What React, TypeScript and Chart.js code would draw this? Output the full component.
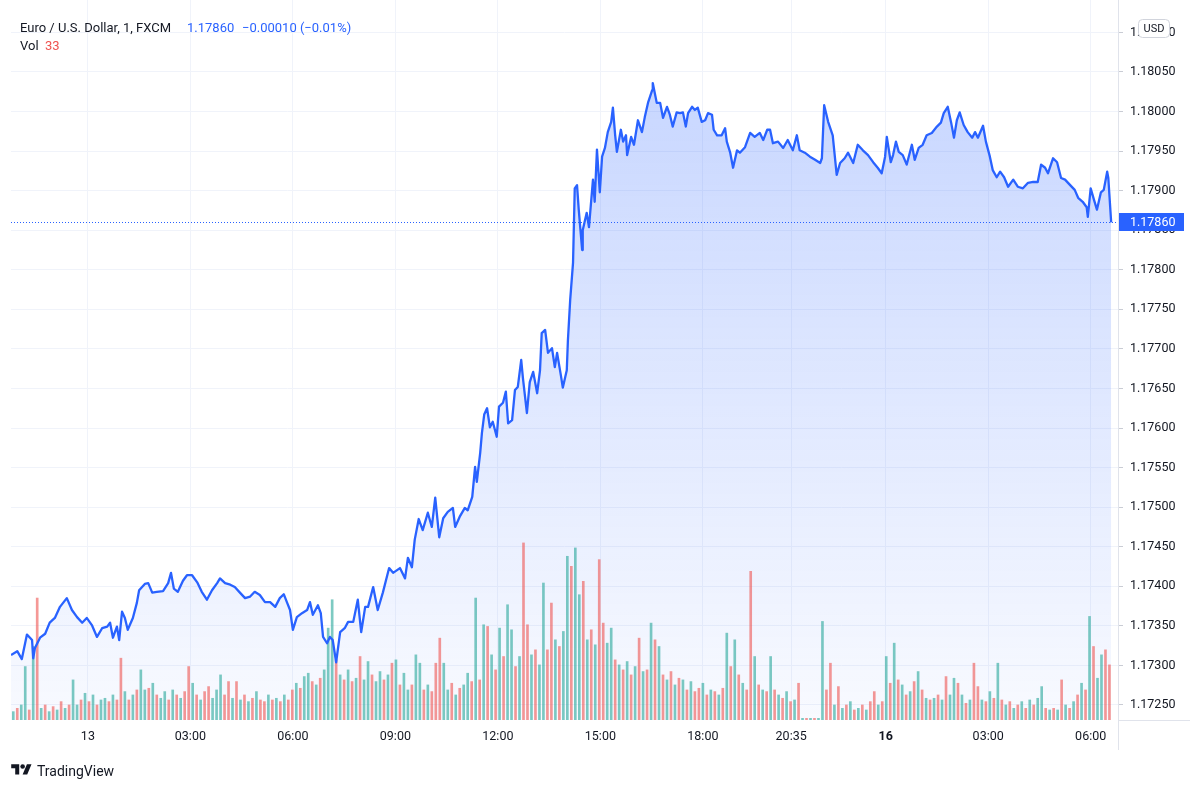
import React, { useEffect, useRef } from 'react';
import { Chart, registerables } from 'chart.js';

Chart.register(...registerables);

const FONT = 'Roboto, "Liberation Sans", sans-serif';

// ---- DATA ----
const instrumentTitle = 'Euro / U.S. Dollar, 1, FXCM';
const lastPrice = 1.1786;
const lastChangeText = '\u22120.00010 (\u22120.01%)';
const lastVolume = 33;
const currency = 'USD';

// x-axis: minutes from the first bar (1-minute chart)
const axisMinMinute = 0;
const axisMaxMinute = 1944;
const xTickMinutes = [135, 315, 495, 675, 855, 1035, 1215, 1370, 1536, 1716, 1896];
const xTickLabels = ['13', '03:00', '06:00', '09:00', '12:00', '15:00', '18:00', '20:35', '16', '03:00', '06:00'];

// y-axis (price)
const priceMin = 1.17231;
const priceMax = 1.18141;
const priceStep = 0.0005;

// [minute, price]
const pricePoints: [number, number][] = [
  [0, 1.17313], [11, 1.17318], [19, 1.17308], [28, 1.17339], [37, 1.17332], [39, 1.17309], [42, 1.17322],
  [51, 1.17335], [60, 1.1734], [68, 1.17354], [77, 1.1736], [86, 1.17374], [98, 1.17385], [107, 1.1737],
  [116, 1.17361], [125, 1.17354], [133, 1.1736], [142, 1.17351], [151, 1.17336], [160, 1.17347], [169, 1.17349],
  [174, 1.17354], [179, 1.17335], [186, 1.17349], [190, 1.17332], [195, 1.17368], [200, 1.1736], [205, 1.17345],
  [214, 1.1736], [221, 1.17379], [225, 1.17395], [235, 1.17403], [241, 1.17404], [248, 1.17392], [256, 1.17393],
  [267, 1.17394], [276, 1.17404], [281, 1.17417], [286, 1.17397], [293, 1.17393], [302, 1.17407], [309, 1.17414],
  [318, 1.17414], [327, 1.17405], [335, 1.17393], [344, 1.17383], [353, 1.17395], [362, 1.17404], [367, 1.1741],
  [376, 1.17404], [385, 1.17402], [393, 1.17399], [402, 1.17392], [411, 1.17385], [420, 1.17387], [428, 1.17393],
  [437, 1.17389], [446, 1.1738], [455, 1.1738], [464, 1.17374], [472, 1.17385], [479, 1.1739], [485, 1.17379],
  [490, 1.1737], [495, 1.17345], [502, 1.17361], [511, 1.17366], [520, 1.1737], [525, 1.1738], [530, 1.17364],
  [539, 1.17376], [544, 1.17366], [548, 1.17336], [555, 1.17328], [560, 1.17336], [565, 1.17332], [571, 1.17304],
  [578, 1.17342], [586, 1.17347], [592, 1.17355], [601, 1.17355], [609, 1.17383], [615, 1.17342], [622, 1.17374],
  [627, 1.17374], [636, 1.17399], [644, 1.1737], [653, 1.17392], [664, 1.17423], [671, 1.17417], [683, 1.17423],
  [692, 1.1741], [697, 1.17436], [704, 1.17424], [709, 1.17459], [716, 1.17485], [723, 1.17471], [732, 1.17493],
  [739, 1.17475], [745, 1.17512], [752, 1.17462], [759, 1.17486], [767, 1.17494], [776, 1.17499], [780, 1.17475],
  [788, 1.17488], [797, 1.17499], [802, 1.17496], [810, 1.17513], [815, 1.17551], [818, 1.17532], [824, 1.17569],
  [827, 1.17594], [831, 1.17617], [836, 1.17625], [841, 1.17601], [846, 1.17608], [853, 1.17589], [857, 1.17627],
  [864, 1.17632], [869, 1.17646], [873, 1.17606], [880, 1.1761], [885, 1.17648], [890, 1.17652], [896, 1.17686],
  [899, 1.17663], [906, 1.17619], [911, 1.17658], [917, 1.17671], [924, 1.17644], [929, 1.17673], [932, 1.1772],
  [938, 1.17724], [943, 1.17695], [950, 1.17701], [955, 1.17677], [959, 1.17695], [966, 1.17665], [969, 1.17651],
  [976, 1.17673], [978, 1.17711], [982, 1.17762], [987, 1.17809], [990, 1.17903], [994, 1.17907], [997, 1.17876],
  [1003, 1.17825], [1004, 1.1785], [1011, 1.17872], [1015, 1.17854], [1022, 1.17914], [1025, 1.17886], [1029, 1.17952],
  [1034, 1.17898], [1038, 1.17943], [1043, 1.17954], [1048, 1.17974], [1054, 1.17987], [1057, 1.18005], [1061, 1.1797],
  [1064, 1.17949], [1071, 1.17977], [1075, 1.17962], [1080, 1.1797], [1082, 1.17945], [1089, 1.17968], [1094, 1.17958],
  [1101, 1.17989], [1108, 1.17974], [1113, 1.17993], [1119, 1.18012], [1126, 1.18027], [1127, 1.18036], [1134, 1.18011],
  [1140, 1.18011], [1145, 1.17992], [1152, 1.18006], [1157, 1.17996], [1162, 1.17981], [1169, 1.17999], [1175, 1.17998],
  [1180, 1.17999], [1185, 1.17981], [1189, 1.17998], [1196, 1.18006], [1201, 1.18002], [1206, 1.18005], [1213, 1.17987],
  [1219, 1.17989], [1224, 1.17998], [1231, 1.17996], [1234, 1.17977], [1240, 1.1797], [1248, 1.1797], [1254, 1.17979],
  [1257, 1.17962], [1263, 1.17948], [1268, 1.17929], [1275, 1.17951], [1280, 1.17948], [1289, 1.17955], [1298, 1.17973],
  [1306, 1.17968], [1315, 1.17973], [1321, 1.17964], [1328, 1.17977], [1333, 1.17977], [1338, 1.1796], [1347, 1.17962],
  [1356, 1.17954], [1364, 1.17964], [1373, 1.17951], [1380, 1.1797], [1385, 1.17951], [1394, 1.17948], [1403, 1.17943],
  [1412, 1.17939], [1421, 1.17935], [1424, 1.17941], [1428, 1.18008], [1435, 1.17987], [1443, 1.1797], [1450, 1.1792],
  [1456, 1.17935], [1464, 1.17941], [1470, 1.17948], [1479, 1.17935], [1487, 1.17958], [1496, 1.17951], [1505, 1.17945],
  [1514, 1.17936], [1522, 1.17929], [1529, 1.17922], [1535, 1.17943], [1538, 1.17968], [1545, 1.17936], [1549, 1.17945],
  [1554, 1.17962], [1559, 1.17949], [1566, 1.17945], [1573, 1.17933], [1582, 1.17958], [1587, 1.17939], [1594, 1.17954],
  [1601, 1.17958], [1608, 1.1797], [1617, 1.17973], [1626, 1.17981], [1633, 1.17986], [1638, 1.17998], [1645, 1.18006],
  [1651, 1.17986], [1656, 1.17967], [1661, 1.17989], [1666, 1.17999], [1673, 1.17983], [1680, 1.17974], [1688, 1.17967],
  [1693, 1.17974], [1698, 1.17967], [1707, 1.17982], [1712, 1.17962], [1719, 1.17943], [1724, 1.17926], [1731, 1.17917],
  [1737, 1.17924], [1744, 1.17917], [1751, 1.17905], [1760, 1.17914], [1768, 1.17905], [1777, 1.17903], [1786, 1.1791],
  [1795, 1.17911], [1803, 1.17911], [1809, 1.17933], [1816, 1.17929], [1821, 1.17922], [1830, 1.17941], [1837, 1.17936],
  [1844, 1.17916], [1851, 1.17914], [1860, 1.17907], [1868, 1.17901], [1874, 1.17891], [1882, 1.17886], [1889, 1.17879],
  [1891, 1.17867], [1896, 1.17903], [1902, 1.17888], [1907, 1.17876], [1914, 1.17898], [1919, 1.17901], [1925, 1.17924],
  [1927, 1.17916], [1932, 1.1786],
];

// volume bars, one every 7 minutes starting at minute 4
const volumeStartMinute = 4;
const volumeStepMinutes = 7;
const volumeValues = [
  5, 7, 9, 32, 6, 44, 73, 7, 9, 5,
  8, 6, 11, 7, 9, 24, 9, 12, 16, 11,
  15, 9, 12, 13, 11, 15, 12, 37, 17, 12,
  15, 18, 30, 18, 19, 22, 15, 13, 17, 12,
  18, 15, 13, 17, 32, 22, 15, 12, 17, 20,
  13, 18, 27, 15, 23, 13, 23, 12, 15, 11,
  13, 17, 12, 11, 15, 12, 13, 11, 15, 12,
  18, 22, 19, 26, 28, 23, 21, 25, 30, 55,
  72, 36, 27, 24, 30, 23, 25, 38, 24, 35,
  27, 23, 29, 24, 27, 34, 36, 21, 28, 18,
  21, 39, 34, 18, 21, 17, 34, 49, 34, 18,
  22, 15, 19, 21, 28, 23, 73, 24, 57, 56,
  39, 30, 55, 38, 69, 54, 32, 38, 106, 57,
  39, 42, 33, 82, 42, 70, 48, 44, 53, 98,
  92, 103, 75, 83, 48, 54, 45, 96, 58, 46,
  55, 36, 33, 30, 35, 27, 32, 49, 29, 30,
  58, 48, 44, 27, 24, 29, 21, 25, 24, 18,
  23, 17, 19, 22, 15, 18, 17, 15, 19, 52,
  32, 48, 27, 22, 18, 89, 38, 21, 18, 17,
  38, 18, 15, 13, 17, 11, 12, 22, 1, 1,
  1, 1, 1, 59, 18, 34, 9, 20, 7, 9,
  11, 6, 7, 9, 6, 11, 17, 9, 11, 38,
  22, 46, 24, 21, 15, 17, 23, 29, 18, 13,
  12, 13, 15, 12, 26, 15, 25, 22, 15, 10,
  12, 34, 20, 12, 11, 17, 13, 34, 12, 9,
  11, 7, 9, 11, 7, 12, 9, 13, 20, 7,
  6, 7, 6, 24, 9, 7, 11, 15, 22, 18,
  62, 44, 25, 39, 42, 33,
];
// u = up bar (teal), d = down bar (red)
const volumeDirections =
  'uduudududu' + 'dududuudud' + 'uduududdud' + 'uduududuud' + 'ududdududd' +
  'uuuddududu' + 'duddududud' + 'duduududuu' + 'ududududuu' + 'duudududuu' +
  'duududdduu' + 'duduududud' + 'ududuududd' + 'uduudduduu' + 'duudududdu' +
  'ududududud' + 'ududududud' + 'uddudududu' + 'dududdudud' + 'ududududud' +
  'uduuddudud' + 'udududdudu' + 'dududududu' + 'dududuudud' + 'uddudududu' +
  'dudududuud' + 'ududududud' + 'uduudd';
const volumeAxisMax = 431;

// ---- STYLE ----
const LINE_BLUE = '#2962ff';
const TEXT = '#131722';
const GRID = '#f0f3fa';
const SEPARATOR = '#e0e3eb';
const UP = 'rgba(38,166,154,0.6)';
const DOWN = 'rgba(239,83,80,0.6)';

const overlayPlugin = {
  id: 'tvOverlay',
  afterDatasetsDraw(chart: any) {
    const { ctx, chartArea, scales } = chart;
    const y = Math.round(scales.y.getPixelForValue(lastPrice)) + 0.5;
    ctx.save();
    ctx.strokeStyle = LINE_BLUE;
    ctx.lineWidth = 1;
    ctx.setLineDash([1, 2]);
    ctx.beginPath();
    ctx.moveTo(chartArea.left, y);
    ctx.lineTo(chartArea.right, y);
    ctx.stroke();
    ctx.restore();
  },
  afterDraw(chart: any) {
    const { ctx, chartArea, scales } = chart;
    ctx.save();
    // separators
    ctx.strokeStyle = SEPARATOR;
    ctx.lineWidth = 1;
    ctx.beginPath();
    ctx.moveTo(chartArea.right + 0.5, 0);
    ctx.lineTo(chartArea.right + 0.5, chartArea.bottom + 30);
    ctx.moveTo(chartArea.right, chartArea.bottom + 0.5);
    ctx.lineTo(chartArea.right + 72, chartArea.bottom + 0.5);
    ctx.stroke();

    // last price badge
    const y = scales.y.getPixelForValue(lastPrice);
    ctx.fillStyle = LINE_BLUE;
    ctx.fillRect(chartArea.right + 1, Math.round(y) - 9, 65, 18);
    ctx.fillStyle = '#ffffff';
    ctx.font = `12.5px ${FONT}`;
    ctx.textBaseline = 'middle';
    ctx.textAlign = 'left';
    ctx.fillText(lastPrice.toFixed(5), chartArea.right + 12, Math.round(y) + 0.5);

    // currency badge
    const bx = chartArea.right + 20.5;
    const by = 19.5;
    const bw = 31;
    const bh = 18;
    ctx.beginPath();
    if ((ctx as any).roundRect) {
      (ctx as any).roundRect(bx, by, bw, bh, 4);
    } else {
      ctx.rect(bx, by, bw, bh);
    }
    ctx.fillStyle = '#ffffff';
    ctx.fill();
    ctx.strokeStyle = '#d1d4dc';
    ctx.stroke();
    ctx.fillStyle = TEXT;
    ctx.font = `11px ${FONT}`;
    ctx.textAlign = 'center';
    ctx.fillText(currency, bx + bw / 2, by + bh / 2 + 0.5);
    ctx.restore();
  },
};

export default function App() {
  const canvasRef = useRef<HTMLCanvasElement>(null);

  useEffect(() => {
    document.body.style.margin = '0';
    const canvas = canvasRef.current;
    if (!canvas) return;

    const priceData = pricePoints.map(([m, p]) => ({ x: m, y: p }));
    const volumeData = volumeValues.map((v, i) => ({ x: volumeStartMinute + i * volumeStepMinutes, y: v }));
    const volumeColors = volumeValues.map((_, i) => (volumeDirections[i] === 'u' ? UP : DOWN));

    const chart = new Chart(canvas, {
      type: 'bar',
      data: {
        datasets: [
          {
            type: 'line',
            label: 'EURUSD',
            data: priceData,
            yAxisID: 'y',
            borderColor: LINE_BLUE,
            borderWidth: 2.3,
            borderJoinStyle: 'round',
            pointRadius: 0,
            tension: 0,
            fill: 'start',
            backgroundColor: (c: any) => {
              const { ctx, chartArea } = c.chart;
              if (!chartArea) return 'rgba(41,98,255,0.15)';
              const g = ctx.createLinearGradient(0, chartArea.top + 80, 0, chartArea.bottom);
              g.addColorStop(0, 'rgba(41,98,255,0.26)');
              g.addColorStop(1, 'rgba(41,98,255,0.03)');
              return g;
            },
            order: 0,
          } as any,
          {
            type: 'bar',
            label: 'Vol',
            data: volumeData,
            yAxisID: 'y1',
            backgroundColor: volumeColors,
            borderWidth: 0,
            barThickness: 2,
            order: 1,
          } as any,
        ],
      },
      options: {
        animation: false,
        responsive: false,
        events: [],
        layout: { padding: { left: 11, right: 0, top: 0, bottom: 0 } },
        plugins: {
          legend: { display: false },
          tooltip: { enabled: false },
          filler: { drawTime: 'beforeDatasetsDraw' } as any,
        },
        scales: {
          x: {
            type: 'linear',
            min: axisMinMinute,
            max: axisMaxMinute,
            offset: false,
            grid: { color: GRID, drawTicks: false, offset: false } as any,
            border: { display: false },
            ticks: {
              color: TEXT,
              padding: 9,
              maxRotation: 0,
              autoSkip: false,
              font: (c: any) => ({
                family: FONT,
                size: 12.5,
                weight: xTickLabels[c.index] === '16' ? 'bold' : 'normal',
              }),
              callback: (_v: any, i: number) => xTickLabels[i],
            },
            afterBuildTicks: (scale: any) => {
              scale.ticks = xTickMinutes.map((v) => ({ value: v }));
            },
            afterFit: (scale: any) => {
              scale.height = 70;
              scale.paddingLeft = 0;
              scale.paddingRight = 0;
            },
          },
          y: {
            type: 'linear',
            position: 'right',
            min: priceMin,
            max: priceMax,
            grid: { color: GRID, tickColor: '#c9ccd4', tickLength: 5, drawTicks: true },
            border: { display: false },
            ticks: {
              color: TEXT,
              padding: 7,
              stepSize: priceStep,
              font: { family: FONT, size: 12.5 },
              callback: (v: any) => Number(v).toFixed(5),
            },
            afterBuildTicks: (scale: any) => {
              scale.ticks = scale.ticks.filter((t: any) => {
                const k = t.value / priceStep;
                return Math.abs(k - Math.round(k)) < 1e-6;
              });
            },
            afterFit: (scale: any) => {
              scale.width = 82;
              scale.paddingTop = 0;
              scale.paddingBottom = 0;
            },
          },
          y1: {
            type: 'linear',
            display: false,
            min: 0,
            max: volumeAxisMax,
          },
        },
      },
      plugins: [overlayPlugin],
    });

    return () => chart.destroy();
  }, []);

  return (
    <div style={{ position: 'relative', width: 1200, height: 790, background: '#ffffff', fontFamily: FONT, overflow: 'hidden' }}>
      <canvas ref={canvasRef} width={1200} height={790} style={{ position: 'absolute', left: 0, top: 0, width: 1200, height: 790 }} />
      <div style={{ position: 'absolute', left: 20, top: 20, fontSize: 13, lineHeight: '16px', color: TEXT, whiteSpace: 'nowrap' }}>
        {instrumentTitle}
      </div>
      <div style={{ position: 'absolute', left: 187, top: 20, fontSize: 13, lineHeight: '16px', color: LINE_BLUE, whiteSpace: 'nowrap' }}>
        {lastPrice.toFixed(5)}
      </div>
      <div style={{ position: 'absolute', left: 242, top: 20, fontSize: 13, lineHeight: '16px', color: LINE_BLUE, whiteSpace: 'nowrap' }}>
        {lastChangeText}
      </div>
      <div style={{ position: 'absolute', left: 20, top: 38, fontSize: 13, lineHeight: '16px', color: TEXT, whiteSpace: 'nowrap' }}>
        Vol
      </div>
      <div style={{ position: 'absolute', left: 45, top: 38, fontSize: 13, lineHeight: '16px', color: '#ef5350', whiteSpace: 'nowrap' }}>
        {String(lastVolume)}
      </div>
      <svg style={{ position: 'absolute', left: 11, top: 762 }} width={21} height={16} viewBox="0 0 36 28">
        <path d="M14 22H7V11H0V4h14v18zM28 22h-8l7.5-18h8L28 22z" fill={TEXT} />
        <circle cx={20} cy={8} r={4} fill={TEXT} />
      </svg>
      <div style={{ position: 'absolute', left: 37, top: 763, fontSize: 14, lineHeight: '16px', color: TEXT, whiteSpace: 'nowrap' }}>
        TradingView
      </div>
    </div>
  );
}
